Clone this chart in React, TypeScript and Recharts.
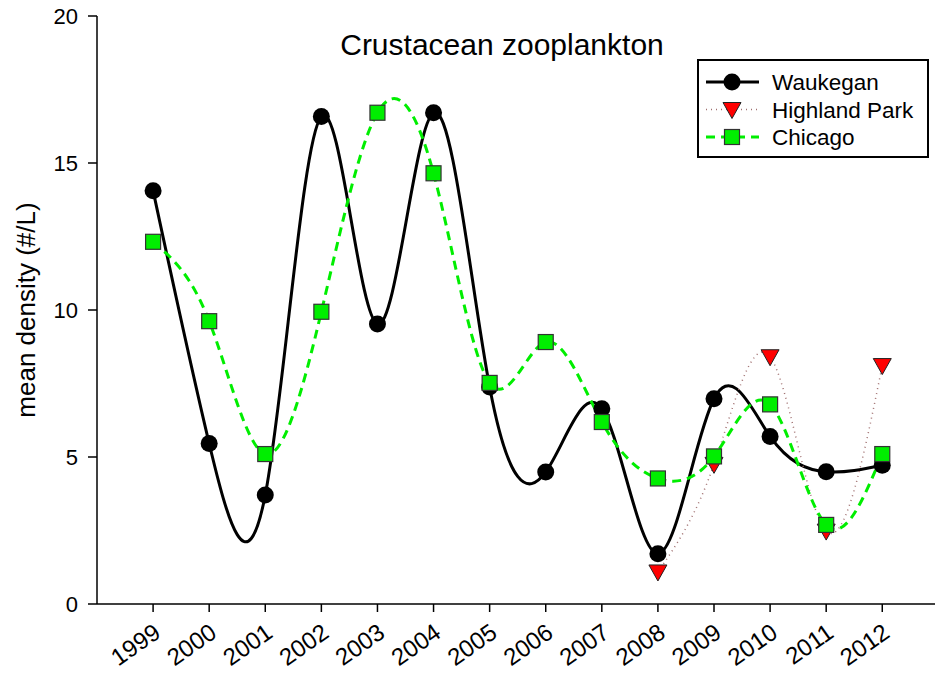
import React from 'react';
import { LineChart, Line, XAxis, YAxis, Customized } from 'recharts';

const years = [1999, 2000, 2001, 2002, 2003, 2004, 2005, 2006, 2007, 2008, 2009, 2010, 2011, 2012];
const waukegan = [14.06, 5.46, 3.71, 16.58, 9.52, 16.71, 7.38, 4.49, 6.64, 1.71, 6.98, 5.7, 4.5, 4.72];
const highlandPark = [null, null, null, null, null, null, null, null, null, 1.09, 4.75, 8.41, 2.48, 8.11];
const chicago = [12.32, 9.62, 5.1, 9.94, 16.71, 14.65, 7.52, 8.91, 6.19, 4.27, 5.02, 6.79, 2.69, 5.1];
const yTicks = [0, 5, 10, 15, 20];

const data = years.map((year, i) => ({
  year,
  waukegan: waukegan[i],
  highlandPark: highlandPark[i],
  chicago: chicago[i],
}));

const FONT = 'Arial, "Liberation Sans", sans-serif';

const CircleDot = (props: any) => {
  const { cx, cy, key } = props;
  if (cx == null || cy == null) return <g key={key} />;
  return <circle key={key} cx={cx} cy={cy} r={8.5} fill="#000" />;
};

const TriangleDot = (props: any) => {
  const { cx, cy, key, value } = props;
  if (cx == null || cy == null || value == null) return <g key={key} />;
  return (
    <path
      key={key}
      d={`M${cx - 9},${cy - 7} L${cx + 9},${cy - 7} L${cx},${cy + 9} Z`}
      fill="#ff0000"
      stroke="#222"
      strokeWidth={1}
    />
  );
};

const SquareDot = (props: any) => {
  const { cx, cy, key } = props;
  if (cx == null || cy == null) return <g key={key} />;
  return <rect key={key} x={cx - 7.5} y={cy - 7.5} width={15} height={15} fill="#00ee00" stroke="#333" strokeWidth={1.2} />;
};

const XTick = (props: any) => {
  const { x, payload } = props;
  return (
    <text
      x={x + 9}
      y={636}
      transform={`rotate(-35, ${x + 9}, 636)`}
      textAnchor="end"
      fontSize={24}
      fontFamily={FONT}
      fill="#000"
    >
      {payload.value}
    </text>
  );
};

const YTick = (props: any) => {
  const { y, payload } = props;
  return (
    <text x={78} y={y} dy={8} textAnchor="end" fontSize={22} fontFamily={FONT} fill="#000">
      {payload.value}
    </text>
  );
};

const Title = () => (
  <text x={502} y={55} textAnchor="middle" fontSize={30} fontFamily={FONT} fill="#000">
    Crustacean zooplankton
  </text>
);

const legendItems = [
  { name: 'Waukegan', kind: 'circle' },
  { name: 'Highland Park', kind: 'triangle' },
  { name: 'Chicago', kind: 'square' },
];

const LegendBox = () => (
  <g transform="translate(697, 59)">
    <rect x={1} y={1} width={230} height={97} fill="#fff" stroke="#000" strokeWidth={2} />
    {legendItems.map((item, i) => {
      const cy = 23 + i * 27.5;
      return (
        <g key={item.name}>
          {item.kind === 'circle' && (
            <>
              <line x1={9} x2={62} y1={cy} y2={cy} stroke="#000" strokeWidth={3} />
              <circle cx={35} cy={cy} r={8.5} fill="#000" />
            </>
          )}
          {item.kind === 'triangle' && (
            <>
              <line x1={9} x2={62} y1={cy} y2={cy} stroke="#a07070" strokeWidth={1.5} strokeDasharray="1 4" />
              <TriangleDot cx={35} cy={cy} value={1} />
            </>
          )}
          {item.kind === 'square' && (
            <>
              <line x1={9} x2={62} y1={cy} y2={cy} stroke="#00ee00" strokeWidth={3} strokeDasharray="9 6" />
              <SquareDot cx={35} cy={cy} />
            </>
          )}
          <text x={75} y={cy + 8} fontSize={22.5} fontFamily={FONT} fill="#000">
            {item.name}
          </text>
        </g>
      );
    })}
  </g>
);

export default function App() {
  return (
    <div style={{ position: 'absolute', left: 0, top: 0, width: 935, height: 674, background: '#fff' }}>
      <LineChart width={935} height={674} data={data} margin={{ top: 16, right: 0, bottom: 0, left: 0 }}>
        <XAxis
          dataKey="year"
          type="number"
          domain={[1998, 2012.94]}
          ticks={years}
          interval={0}
          height={70}
          tickSize={8}
          tick={<XTick />}
          axisLine={{ stroke: '#000', strokeWidth: 1.5 }}
          tickLine={{ stroke: '#000', strokeWidth: 1.5 }}
          allowDataOverflow
        />
        <YAxis
          domain={[0, 20]}
          ticks={yTicks}
          interval={0}
          width={97}
          tickSize={9}
          tick={<YTick />}
          axisLine={{ stroke: '#000', strokeWidth: 1.5 }}
          tickLine={{ stroke: '#000', strokeWidth: 1.5 }}
          label={{
            value: 'mean density (#/L)',
            angle: -90,
            position: 'insideLeft',
            offset: 26,
            style: { fontSize: 26, fontFamily: FONT, fill: '#000', textAnchor: 'middle' },
          }}
        />
        <Line
          type="natural"
          dataKey="waukegan"
          stroke="#000"
          strokeWidth={3}
          dot={CircleDot}
          activeDot={false}
          isAnimationActive={false}
        />
        <Line
          type="natural"
          dataKey="highlandPark"
          stroke="#a07070"
          strokeWidth={1.5}
          strokeDasharray="1 4"
          dot={TriangleDot}
          activeDot={false}
          isAnimationActive={false}
        />
        <Line
          type="natural"
          dataKey="chicago"
          stroke="#00ee00"
          strokeWidth={3}
          strokeDasharray="9 6"
          dot={SquareDot}
          activeDot={false}
          isAnimationActive={false}
        />
        <Customized component={Title} />
        <Customized component={LegendBox} />
      </LineChart>
    </div>
  );
}
